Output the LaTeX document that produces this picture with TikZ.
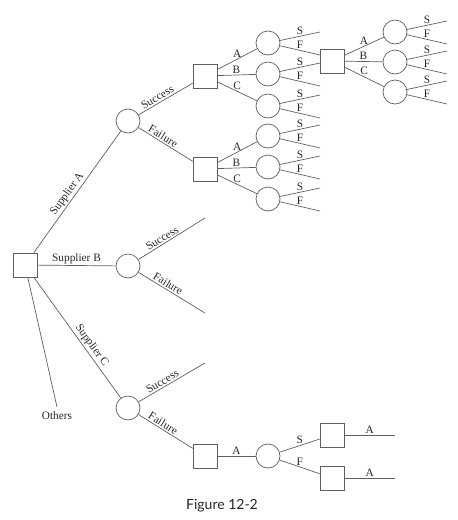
\documentclass[tikz,border=0pt]{standalone}
\usepackage{fontspec}
\setmainfont{Liberation Serif}
\newfontfamily\capfont{Lato}
\usepackage{tikz}
\usetikzlibrary{positioning}
\definecolor{linegray}{RGB}{95,95,95}
\tikzstyle{dec} = [rectangle, draw=linegray, line width=0.7pt, fill=white, minimum size=24pt, inner sep=0pt]
\tikzstyle{chance} = [circle, draw=linegray, line width=0.7pt, fill=white, minimum size=24pt, inner sep=0pt]
\tikzstyle{branch} = [draw=linegray, line width=0.7pt]
\tikzstyle{lab} = [text=black!85, font=\fontsize{11.3}{12}\selectfont, inner sep=1.5pt]

\begin{document}
\begin{tikzpicture}[x=1pt, y=-1pt]
\path[use as bounding box] (0,0) rectangle (458,520);

% decision and chance nodes =============================
\node[dec] (root) at (25,265) {};
\node[chance] (ca) at (128,121) {};
\node[chance] (cb) at (128,266) {};
\node[chance] (cc) at (128,408) {};
\node[dec] (as) at (205,76) {};
\node[dec] (af) at (205,169) {};
\node[chance] (asa) at (268,43) {};
\node[chance] (asb) at (268,74) {};
\node[chance] (asc) at (268,106) {};
\node[chance] (afa) at (268,136) {};
\node[chance] (afb) at (268,167) {};
\node[chance] (afc) at (268,199) {};
\node[dec] (nx) at (332,61) {};
\node[chance] (nxa) at (395,32) {};
\node[chance] (nxb) at (395,62) {};
\node[chance] (nxc) at (395,92) {};
\node[dec] (cf) at (205,456) {};
\node[chance] (cfa) at (268,456) {};
\node[dec] (cfs) at (332,435) {};
\node[dec] (cff) at (332,478) {};

% free ends
\coordinate (oth) at (57,407);
\coordinate (bs) at (205,218);
\coordinate (bf) at (205,313);
\coordinate (cs) at (205,363);
\coordinate (cfsA) at (395,435);
\coordinate (cffA) at (395,478);
\node[lab, below=3pt of oth] (others) {Others};
\node[font=\capfont\fontsize{14}{16}\selectfont, text=black!85] (caption) at (222,506) {Figure 12-2};

% edges
\path[branch] (root) edge node[lab, above, sloped, pos=0.45] {Supplier A} (ca);
\path[branch] (root) edge node[lab, above] {Supplier B} (cb);
\path[branch] (root) edge node[lab, above, sloped, pos=0.6] {Supplier C} (cc);
\path[branch] (root) edge (oth);

\path[branch] (ca) edge node[lab, above, sloped, pos=0.4] {Success} (as);
\path[branch] (ca) edge node[lab, above, sloped, pos=0.4] {Failure} (af);
\path[branch] (cb) edge node[lab, above, sloped, pos=0.4] {Success} (bs);
\path[branch] (cb) edge node[lab, above, sloped, pos=0.4] {Failure} (bf);
\path[branch] (cc) edge node[lab, above, sloped, pos=0.4] {Success} (cs);
\path[branch] (cc) edge node[lab, above, sloped, pos=0.4] {Failure} (cf);

\path[branch] (as) edge node[lab, above] {A} (asa);
\path[branch] (as) edge node[lab, above] {B} (asb);
\path[branch] (as) edge node[lab, above] {C} (asc);
\path[branch] (af) edge node[lab, above] {A} (afa);
\path[branch] (af) edge node[lab, above] {B} (afb);
\path[branch] (af) edge node[lab, above] {C} (afc);
\path[branch] (nx) edge node[lab, above] {A} (nxa);
\path[branch] (nx) edge node[lab, above] {B} (nxb);
\path[branch] (nx) edge node[lab, above] {C} (nxc);

% success / failure ends
\foreach \c in {asa,asb,asc,afa,afb,afc,nxa,nxb,nxc} {
  \path (\c) ++(52,-11) coordinate (\c S);
  \path (\c) ++(52,12) coordinate (\c F);
  \path[branch] (\c) edge node[lab, above] {S} (\c S)
                (\c) edge node[lab, above] {F} (\c F);
}

\path[branch] (cf) edge node[lab, above] {A} (cfa);
\path[branch] (cfa) edge node[lab, above] {S} (cfs);
\path[branch] (cfa) edge node[lab, above] {F} (cff);
\path[branch] (cfs) edge node[lab, above] {A} (cfsA);
\path[branch] (cff) edge node[lab, above] {A} (cffA);

\end{tikzpicture}
\end{document}
